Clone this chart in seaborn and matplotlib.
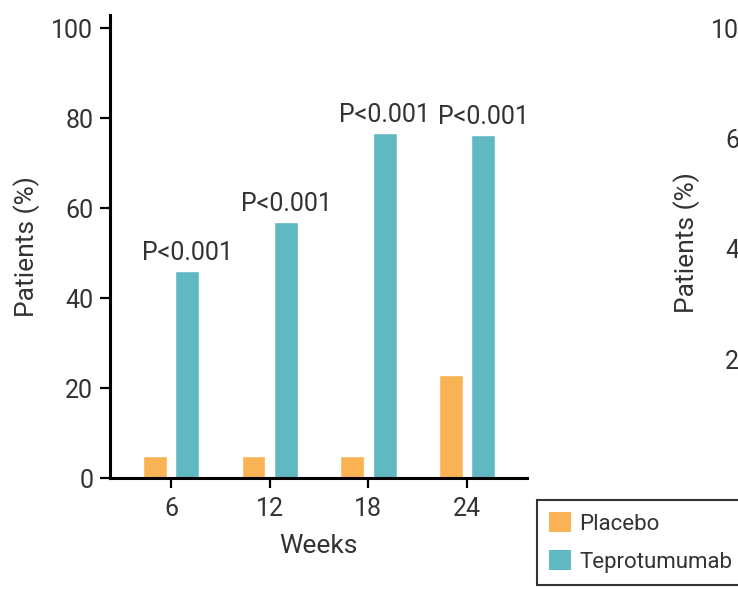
import matplotlib
matplotlib.use("Agg")
import matplotlib.pyplot as plt
import seaborn as sns
import pandas as pd
from matplotlib.patches import Patch

# ---- data ----
weeks = ["6", "12", "18", "24"]
groups = ["Placebo", "Teprotumumab"]
placebo = [5, 5, 5, 23]
teprotumumab = [46, 57, 76.7, 76.3]
p_labels = ["P<0.001", "P<0.001", "P<0.001", "P<0.001"]
yticks = [0, 20, 40, 60, 80, 100]
right_ticks = [0, 20, 40, 60, 80]
right_tick_labels = ["0", "20", "40", "60", "100"]
colors = {"Placebo": "#F9B354", "Teprotumumab": "#60B8C2"}

sns.set_theme(style="white")
plt.rcParams['font.family'] = ['Roboto', 'DejaVu Sans']
txt = "#333333"
FS = 18

df = pd.DataFrame({
    "Weeks": weeks * 2,
    "Patients": placebo + teprotumumab,
    "Group": [groups[0]] * len(weeks) + [groups[1]] * len(weeks),
})

W, H = 738, 589
fig = plt.figure(figsize=(W / 100, H / 100), dpi=100)
ax = fig.add_axes([110 / W, 1 - 478 / H, (527 - 110) / W, (478 - 15) / H])

sns.barplot(data=df, x="Weeks", y="Patients", hue="Group", palette=colors,
            width=0.66, gap=0.27, saturation=1, legend=False, ax=ax)

for i, v in enumerate(teprotumumab):
    ax.text(i + 0.165, v + 1.3, p_labels[i], ha="center", va="bottom",
            fontsize=FS, color=txt)

ax.set_xlim(-0.618, 3.607)
ax.set_ylim(0, 102.9)
ax.set_yticks(yticks)
ax.set_xlabel("Weeks", fontsize=19, color=txt, labelpad=9)
ax.set_ylabel("Patients (%)", fontsize=19, color=txt, labelpad=8)
for s in ["top", "right"]:
    ax.spines[s].set_visible(False)
for s in ["left", "bottom"]:
    ax.spines[s].set_color("black")
    ax.spines[s].set_linewidth(2.2)
ax.tick_params(axis="both", direction="out", length=7, width=1.6, color="black",
               labelsize=FS, labelcolor=txt, left=True, bottom=True, pad=5)
ax.tick_params(axis="x", pad=7)

# second (cropped) panel on the right
ax2 = fig.add_axes([770 / W, 1 - 470 / H, 0.5, (470 - 15) / H])
ax2.set_ylim(0, 455 / 5.525)
ax2.set_yticks(right_ticks)
ax2.set_yticklabels(right_tick_labels)
ax2.set_xticks([])
ax2.set_ylabel("Patients (%)", fontsize=19, color=txt, labelpad=8)
for s in ["top", "right"]:
    ax2.spines[s].set_visible(False)
for s in ["left", "bottom"]:
    ax2.spines[s].set_color("black")
    ax2.spines[s].set_linewidth(2.2)
ax2.tick_params(axis="y", direction="out", length=7, width=1.6, color="black",
                labelsize=FS, labelcolor=txt, left=True, pad=5)

handles = [Patch(facecolor=colors[g], edgecolor="none", label=g) for g in groups]
leg = fig.legend(handles=handles, loc="upper left",
                 bbox_to_anchor=(537 / W, 1 - 500 / H), frameon=True,
                 fancybox=False, edgecolor="black", fontsize=16,
                 handlelength=1.0, handleheight=1.0, handletextpad=0.35,
                 labelspacing=0.7, borderpad=0.55, borderaxespad=0)
leg.get_frame().set_linewidth(1.5)
for t in leg.get_texts():
    t.set_color(txt)

fig.savefig("out.png", dpi=100)
